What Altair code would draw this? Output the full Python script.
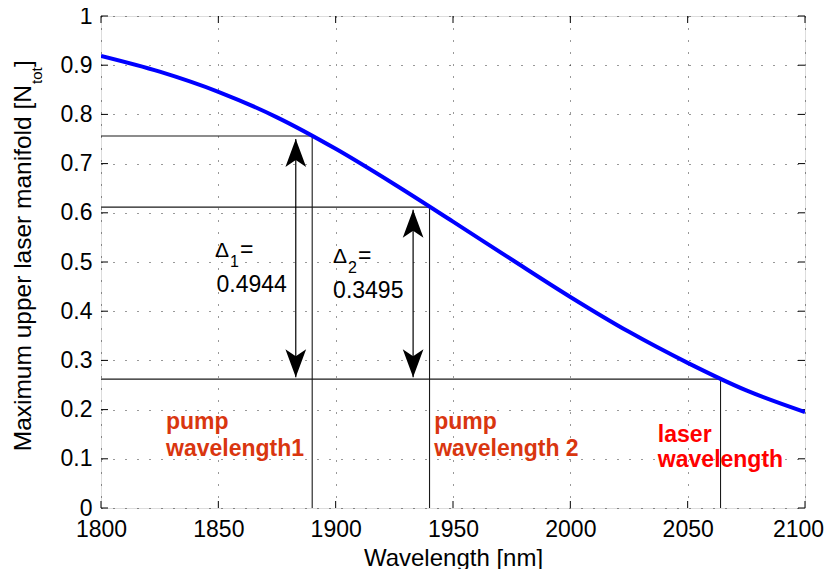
import altair as alt
import pandas as pd

# ---- data ----
wavelength = [1800, 1825, 1850, 1875, 1900, 1925, 1950, 1975, 2000, 2025, 2050, 2075, 2100]
population = [0.919, 0.887, 0.846, 0.794, 0.730, 0.658, 0.582, 0.505, 0.429, 0.358, 0.295, 0.239, 0.195]

x_ticks = [1800, 1850, 1900, 1950, 2000, 2050, 2100]
y_ticks = [0, 0.1, 0.2, 0.3, 0.4, 0.5, 0.6, 0.7, 0.8, 0.9, 1.0]

marker_wl = [1890, 1940, 2064]          # pump 1, pump 2, laser
marker_val = [0.756, 0.6115, 0.262]

arrow_wl = [1883, 1933]
arrow_top = [0.750, 0.606]
arrow_bottom = [0.266, 0.266]

delta_value_text = ["0.4944", "0.3495"]
delta_value_wl = [1849.2, 1898.9]
delta_value_val = [0.439, 0.427]
delta_sym_wl = [1848.6, 1898.9]
delta_sym_val = [0.510, 0.498]
delta_sub_text = ["1", "2"]

band_text = ["pump", "wavelength1", "pump", "wavelength 2", "laser", "wavelength"]
band_wl = [1827.7, 1827.7, 1942.0, 1942.0, 2037.3, 2037.3]
band_val = [0.160, 0.105, 0.160, 0.105, 0.134, 0.083]
band_kind = ["pump", "pump", "pump", "pump", "laser", "laser"]

y_title_main = ["Maximum upper laser manifold [N"]
y_title_sub = ["tot"]
y_title_end = ["]"]

# ---- layout / style ----
W, H = 704, 492
FONT = "Liberation Sans"
XMIN, XMAX = 1800, 2100
YMIN, YMAX = 0, 1
px_x = (XMAX - XMIN) / W
px_y = (YMAX - YMIN) / H
TICK = 7

xs = alt.Scale(domain=[XMIN, XMAX], nice=False, zero=False)
ys = alt.Scale(domain=[YMIN, YMAX], nice=False, zero=False)

x_axis = alt.Axis(values=x_ticks, grid=True, ticks=False, domain=False, format="d",
                  labelFontSize=23, labelFont=FONT, labelColor="#000", labelPadding=10,
                  labelOffset={"condition": {"test": "datum.value == 2100", "value": -7}, "value": 0},
                  titleFontSize=24, titleFont=FONT, titleFontWeight="normal", titleColor="#000",
                  titlePadding=5, gridDash=[1, 11], gridColor="#000", gridOpacity=0.8,
                  labelFlush=False)
y_axis = alt.Axis(values=y_ticks, grid=True, ticks=False, domain=False, format=".1~f",
                  labelFontSize=23, labelFont=FONT, labelColor="#000", labelPadding=9,
                  gridDash=[1, 11], gridColor="#000", gridOpacity=0.8, labelFlush=False)


def X(field="wl"):
    return alt.X(f"{field}:Q", scale=xs, axis=x_axis, title="Wavelength [nm]")


def Y(field="v"):
    return alt.Y(f"{field}:Q", scale=ys, axis=y_axis, title=None)


curve_df = pd.DataFrame({"wl": wavelength, "v": population})

# inward ticks on all four sides
vt = []
for t in x_ticks:
    vt.append({"wl": t, "v": YMIN, "v2": YMIN + TICK * px_y})
    vt.append({"wl": t, "v": YMAX, "v2": YMAX - TICK * px_y})
ht = []
for t in y_ticks:
    ht.append({"v": t, "wl": XMIN, "wl2": XMIN + TICK * px_x})
    ht.append({"v": t, "wl": XMAX, "wl2": XMAX - TICK * px_x})
vt_df = pd.DataFrame(vt)
ht_df = pd.DataFrame(ht)

ticks_v = alt.Chart(vt_df).mark_rule(color="#000", strokeWidth=1).encode(
    x=X(), y=Y(), y2="v2:Q")
ticks_h = alt.Chart(ht_df).mark_rule(color="#000", strokeWidth=1).encode(
    x=X(), x2="wl2:Q", y=Y())

mk_df = pd.DataFrame({"wl": marker_wl, "v": marker_val,
                      "x0": [XMIN] * len(marker_wl), "y0": [YMIN] * len(marker_wl)})
h_lines = alt.Chart(mk_df).mark_rule(color="#1a1a1a", strokeWidth=1.1).encode(
    x=alt.X("x0:Q", scale=xs, axis=x_axis, title="Wavelength [nm]"), x2="wl:Q", y=Y())
v_lines = alt.Chart(mk_df).mark_rule(color="#1a1a1a", strokeWidth=1.1).encode(
    x=X(), y=alt.Y("y0:Q", scale=ys, axis=y_axis, title=None), y2="v:Q")

ar_df = pd.DataFrame({"wl": arrow_wl, "top": arrow_top, "bottom": arrow_bottom})
shafts = alt.Chart(ar_df).mark_rule(color="#000", strokeWidth=1.2).encode(
    x=X(), y=Y("bottom"), y2="top:Q")
UP = "M0,0 L-0.37,1 L0,0.75 L0.37,1 Z"
DOWN = "M0,0 L-0.37,-1 L0,-0.75 L0.37,-1 Z"
heads_up = alt.Chart(ar_df).mark_point(shape=UP, filled=True, color="#000", size=3136,
                                       opacity=1, strokeWidth=0).encode(x=X(), y=Y("top"))
heads_down = alt.Chart(ar_df).mark_point(shape=DOWN, filled=True, color="#000", size=3136,
                                         opacity=1, strokeWidth=0).encode(x=X(), y=Y("bottom"))

curve = alt.Chart(curve_df).mark_line(color="#0000ff", strokeWidth=4, interpolate="monotone",
                                      clip=True).encode(x=X(), y=Y())

# delta annotations
dv_df = pd.DataFrame({"wl": delta_value_wl, "v": delta_value_val, "t": delta_value_text})
d_vals = alt.Chart(dv_df).mark_text(font=FONT, fontSize=23, align="left", baseline="alphabetic",
                                    color="#000").encode(x=X(), y=Y(), text="t:N")
ds_df = pd.DataFrame({"wl": delta_sym_wl, "v": delta_sym_val, "sub": delta_sub_text})
d_sym = alt.Chart(ds_df).mark_text(text="Δ", font=FONT, fontSize=21, align="left",
                                   baseline="alphabetic", color="#000").encode(x=X(), y=Y())
d_sub = alt.Chart(ds_df).mark_text(font=FONT, fontSize=16, align="left", baseline="alphabetic",
                                   color="#000", dx=15, dy=10).encode(x=X(), y=Y(), text="sub:N")
d_eq = alt.Chart(ds_df).mark_text(text="=", font=FONT, fontSize=23, align="left",
                                  baseline="alphabetic", color="#000", dx=25).encode(x=X(), y=Y())

band_df = pd.DataFrame({"wl": band_wl, "v": band_val, "t": band_text, "k": band_kind})
bands = alt.Chart(band_df).mark_text(font=FONT, fontSize=23, fontWeight="bold", align="left",
                                     baseline="alphabetic").encode(
    x=X(), y=Y(), text="t:N",
    color=alt.Color("k:N", scale=alt.Scale(domain=["pump", "laser"], range=["#d9360f", "#ff0000"]),
                    legend=None))

# y title with subscript
yt_main = alt.Chart(pd.DataFrame({"t": y_title_main})).mark_text(
    font=FONT, fontSize=24.5, angle=270, align="right", baseline="alphabetic", color="#000").encode(
    x=alt.value(-70), y=alt.value(69), text="t:N")
yt_sub = alt.Chart(pd.DataFrame({"t": y_title_sub})).mark_text(
    font=FONT, fontSize=15, angle=270, align="left", baseline="alphabetic", color="#000").encode(
    x=alt.value(-59), y=alt.value(68), text="t:N")
yt_end = alt.Chart(pd.DataFrame({"t": y_title_end})).mark_text(
    font=FONT, fontSize=24.5, angle=270, align="left", baseline="alphabetic", color="#000").encode(
    x=alt.value(-70), y=alt.value(51), text="t:N")

chart = alt.layer(
    ticks_v, ticks_h, h_lines, v_lines, shafts, heads_up, heads_down, curve,
    d_vals, d_sym, d_sub, d_eq, bands, yt_main, yt_sub, yt_end
).properties(
    width=W, height=H,
    autosize=alt.AutoSizeParams(type="none"),
    padding={"left": 93, "top": 8, "right": 20, "bottom": 61},
).configure_view(
    stroke="#000", strokeWidth=1.3
).configure(background="#ffffff")

chart.save("out.html", embed_options={"renderer": "svg", "actions": False})
